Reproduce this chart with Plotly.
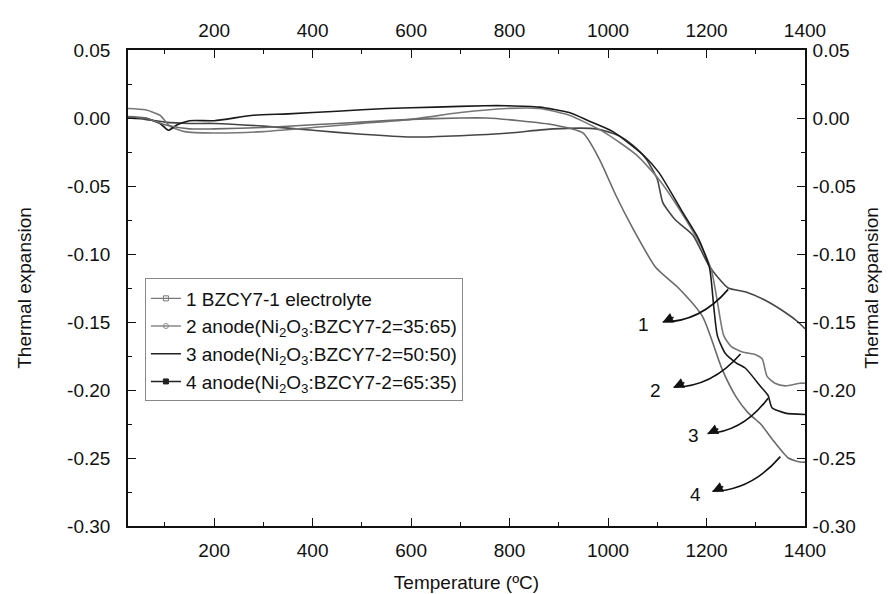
import plotly.graph_objects as go

# ---- data ----
T1 = [25, 60, 100, 150, 200, 300, 400, 500, 600, 700, 800, 889, 976, 1022, 1050, 1077, 1100, 1111, 1137, 1172, 1204, 1225, 1244, 1280, 1319, 1360, 1386, 1400]
V1 = [0.000, -0.001, -0.003, -0.004, -0.004, -0.006, -0.009, -0.012, -0.014, -0.013, -0.011, -0.008, -0.008, -0.013, -0.020, -0.030, -0.045, -0.062, -0.075, -0.086, -0.108, -0.118, -0.125, -0.128, -0.134, -0.143, -0.150, -0.155]

T2 = [25, 60, 90, 110, 140, 200, 300, 400, 500, 600, 700, 794, 860, 921, 990, 1057, 1103, 1150, 1190, 1210, 1222, 1235, 1250, 1273, 1300, 1313, 1323, 1339, 1360, 1390, 1400]
V2 = [0.007, 0.006, 0.002, -0.006, -0.010, -0.011, -0.010, -0.007, -0.004, -0.001, 0.004, 0.007, 0.007, 0.002, -0.010, -0.027, -0.045, -0.070, -0.095, -0.112, -0.135, -0.160, -0.168, -0.172, -0.174, -0.177, -0.190, -0.195, -0.197, -0.195, -0.195]

T3 = [25, 60, 90, 107, 125, 150, 200, 280, 350, 450, 550, 650, 750, 794, 860, 921, 960, 1010, 1071, 1103, 1151, 1184, 1206, 1215, 1222, 1238, 1260, 1279, 1309, 1325, 1333, 1360, 1400]
V3 = [0.000, 0.000, -0.004, -0.009, -0.005, -0.002, -0.002, 0.002, 0.003, 0.005, 0.007, 0.008, 0.009, 0.009, 0.008, 0.004, -0.002, -0.010, -0.027, -0.040, -0.069, -0.089, -0.110, -0.140, -0.160, -0.173, -0.180, -0.184, -0.197, -0.204, -0.213, -0.217, -0.218]

T4 = [25, 60, 100, 150, 200, 300, 400, 500, 600, 700, 753, 820, 889, 949, 982, 1016, 1050, 1097, 1143, 1192, 1232, 1260, 1285, 1310, 1333, 1366, 1390, 1400]
V4 = [0.001, 0.000, -0.005, -0.008, -0.008, -0.007, -0.005, -0.003, -0.001, 0.000, 0.000, -0.002, -0.005, -0.011, -0.030, -0.057, -0.081, -0.110, -0.125, -0.146, -0.185, -0.205, -0.217, -0.225, -0.236, -0.250, -0.253, -0.253]

names = ["1 BZCY7-1 electrolyte",
         "2 anode(Ni<sub>2</sub>O<sub>3</sub>:BZCY7-2=35:65)",
         "3 anode(Ni<sub>2</sub>O<sub>3</sub>:BZCY7-2=50:50)",
         "4 anode(Ni<sub>2</sub>O<sub>3</sub>:BZCY7-2=65:35)"]
labels = ["1", "2", "3", "4"]
# arrow start (on curve), arrow end, label position  (T, value)
arrow_start = [(1244, -0.126), (1269, -0.1735), (1325, -0.206), (1350, -0.249)]
arrow_end = [(1111, -0.150), (1133, -0.198), (1202, -0.232), (1212, -0.2745)]
label_pos = [(1071, -0.1515), (1097, -0.200), (1174, -0.2335), (1178, -0.277)]

x_ticks = [200, 400, 600, 800, 1000, 1200, 1400]
y_ticks = [0.05, 0.00, -0.05, -0.10, -0.15, -0.20, -0.25, -0.30]
y_ticktext = [f"{v:.2f}" for v in y_ticks]
x_range = [25, 1400]
y_range = [-0.30, 0.05]

colors = ["#454545", "#777777", "#1a1a1a", "#6a6a6a"]
legend_colors = ["#777", "#888", "#222", "#222"]
legend_symbols = ["square-open", "circle-open", None, "square"]

fig = go.Figure()
for T, V, c in zip([T1, T2, T3, T4], [V1, V2, V3, V4], colors):
    fig.add_trace(go.Scatter(x=T, y=V, mode="lines",
                             line=dict(color=c, width=1.6, shape="spline", smoothing=0.6),
                             showlegend=False, hoverinfo="skip"))
for n, c, s in zip(names, legend_colors, legend_symbols):
    if s:
        fig.add_trace(go.Scatter(x=[None], y=[None], mode="lines+markers", name=n,
                                 line=dict(color=c, width=1.4),
                                 marker=dict(symbol=s, size=5, color=c, line=dict(color=c, width=1))))
    else:
        fig.add_trace(go.Scatter(x=[None], y=[None], mode="lines", name=n, line=dict(color=c, width=1.4)))

# invisible trace so the mirrored top/right axes are drawn
fig.add_trace(go.Scatter(x=[T1[0]], y=[V1[0]], xaxis="x2", yaxis="y2", mode="markers",
                         marker=dict(opacity=0), showlegend=False, hoverinfo="skip"))

# curved arrows with labels
for (x0, y0), (x1, y1), (lx, ly), lab in zip(arrow_start, arrow_end, label_pos, labels):
    cx = (x0 + x1) / 2 + 10
    cy = (y0 + y1) / 2 - 0.012
    fig.add_shape(type="path", xref="x", yref="y",
                  path=f"M {x0},{y0} Q {cx},{cy} {x1},{y1}",
                  line=dict(color="#111", width=1.6))
    fig.add_annotation(x=x1, y=y1, ax=x1 + 25, ay=y1 + 0.004, axref="x", ayref="y", xref="x", yref="y",
                       text="", showarrow=True, arrowhead=2, arrowsize=1.3, arrowwidth=1.6, arrowcolor="#111")
    fig.add_annotation(x=lx, y=ly, text=lab, showarrow=False, xref="x", yref="y",
                       font=dict(size=19, color="#111", family="Liberation Sans, Arial"))

font = dict(family="Liberation Sans, Arial", size=19, color="#111")


def axis_common():
    return dict(showline=True, linecolor="#111", linewidth=1.6, ticks="inside", ticklen=8, tickwidth=1.4,
                tickcolor="#111", showgrid=False, zeroline=False, tickfont=font,
                minor=dict(ticks="inside", ticklen=4, tickwidth=1.2, tickcolor="#111", showgrid=False))


fig.update_layout(
    width=890, height=594, plot_bgcolor="white", paper_bgcolor="white",
    margin=dict(l=120, r=93, t=40, b=76),
    font=font,
    xaxis=dict(range=x_range, tickvals=x_ticks, ticklabelstandoff=6, **axis_common(),
               title=dict(text="Temperature (ºC)", font=font, standoff=16)),
    xaxis2=dict(range=x_range, tickvals=x_ticks, overlaying="x", side="top", anchor="y",
                ticklabelstandoff=4, **axis_common()),
    yaxis=dict(range=y_range, tickvals=y_ticks, ticktext=y_ticktext, ticklabelstandoff=12, **axis_common(),
               title=dict(text="Thermal expansion", font=font, standoff=30)),
    yaxis2=dict(range=y_range, tickvals=y_ticks, ticktext=y_ticktext, overlaying="y", side="right", anchor="x",
                ticklabelstandoff=2, **axis_common(),
                title=dict(text="Thermal expansion", font=font, standoff=10)),
    legend=dict(x=0.025, y=0.52, xanchor="left", yanchor="top", bgcolor="white", bordercolor="#888",
                borderwidth=1, font=dict(family="Liberation Sans, Arial", size=19, color="#111"),
                tracegroupgap=0),
    showlegend=True,
)
for ax in (fig.layout.xaxis, fig.layout.xaxis2):
    ax.minor.dtick = 100
    ax.minor.tick0 = 0
for ax in (fig.layout.yaxis, fig.layout.yaxis2):
    ax.minor.dtick = 0.025
    ax.minor.tick0 = 0

fig.write_html("out.html")
